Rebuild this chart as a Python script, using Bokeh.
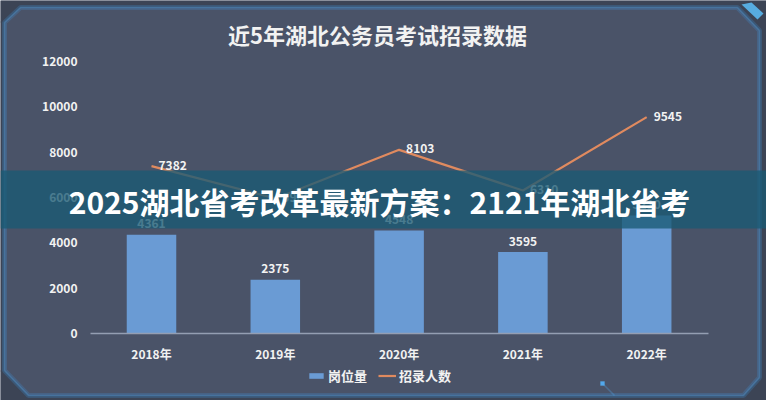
from bokeh.plotting import figure
from bokeh.models import (ColumnDataSource, LabelSet, Label, PolyAnnotation, Legend, LegendItem,
                          FixedTicker, Range1d, LinearAxis)
from bokeh.embed import file_html
from bokeh.resources import INLINE
from bokeh.core.properties import value

# ---------------- data ----------------
title_text = "近5年湖北公务员考试招录数据"
banner_text = "2025湖北省考改革最新方案：2121年湖北省考"
years = ["2018年", "2019年", "2020年", "2021年", "2022年"]
posts = [4361, 2375, 4548, 3595, 5210]     # 岗位量
hires = [7382, 5960, 8103, 6310, 9545]     # 招录人数
y_ticks = [0, 2000, 4000, 6000, 8000, 10000, 12000]
series_names = ["岗位量", "招录人数"]

# ---------------- layout (pixels) ----------------
W, H = 766, 400
X0_PX, DX_PX = 151.0, 123.8          # pixel x of first category, spacing
Y0_PX, Y_TOP_PX = 333.0, 61.0         # pixel y of y=0 and of top tick
AX_LEFT_PX, AX_RIGHT_PX = 90.0, 708.0
y_per_px = (y_ticks[-1] - y_ticks[0]) / (Y0_PX - Y_TOP_PX)


def xd(px):
    return (px - X0_PX) / DX_PX


def yd(py):
    return (Y0_PX - py) * y_per_px


BG = "#4a5368"
OUTER = "#3c4455"
BAR = "#6a9bd4"
LINE = "#e08a5f"
TXT = "#f2f2f2"
EDGE = "#52a8ec"
FONT = "Noto Sans CJK SC"


def scr(points):
    return dict(xs=[a for a, b in points], ys=[H - b for a, b in points],
                xs_units="screen", ys_units="screen")


idx = list(range(len(years)))
src = ColumnDataSource(dict(
    x=idx, posts=posts, hires=hires,
    posts_lbl=[str(v) for v in posts],
    hires_lbl=[str(v) for v in hires],
))

p = figure(width=W, height=H, output_backend="svg", toolbar_location=None,
           x_range=Range1d(xd(0), xd(W)), y_range=Range1d(yd(H), yd(0)),
           x_axis_location=None, y_axis_location=None, min_border=0,
           background_fill_color=BG, border_fill_color=BG, outline_line_color=None)
p.grid.visible = False

bars = p.vbar(x="x", top="posts", width=0.4, source=src, fill_color=BAR, line_color=None)
line = p.line(x="x", y="hires", source=src, line_color=LINE, line_width=2.2)

xaxis = LinearAxis(fixed_location=y_ticks[0], bounds=(xd(AX_LEFT_PX), xd(AX_RIGHT_PX)),
                   ticker=FixedTicker(ticks=idx),
                   major_label_overrides={i: y for i, y in enumerate(years)})
yaxis = LinearAxis(fixed_location=xd(AX_LEFT_PX), bounds=(y_ticks[0], y_ticks[-1]),
                   ticker=FixedTicker(ticks=y_ticks))
for ax in (xaxis, yaxis):
    ax.major_tick_line_color = None
    ax.minor_tick_line_color = None
    ax.major_tick_out = 0
    ax.major_tick_in = 0
    ax.major_label_text_font = FONT
    ax.major_label_text_font_style = "bold"
    ax.major_label_text_font_size = "12px"
    ax.major_label_text_color = TXT
yaxis.axis_line_color = None
yaxis.major_label_standoff = 13
xaxis.axis_line_color = "#949eb2"
xaxis.axis_line_width = 1.6
xaxis.major_label_standoff = 11
p.add_layout(xaxis, "below")
p.add_layout(yaxis, "left")

# data labels
p.add_layout(LabelSet(x="x", y="posts", text="posts_lbl", source=src,
                      text_align="center", text_baseline="middle", y_offset=11,
                      text_font=value(FONT), text_font_style="bold",
                      text_font_size="12px", text_color=TXT))
p.add_layout(LabelSet(x="x", y="hires", text="hires_lbl", source=src,
                      text_align="left", text_baseline="middle", x_offset=7, y_offset=1,
                      text_font=value(FONT), text_font_style="bold",
                      text_font_size="12px", text_color=TXT))

# title
p.add_layout(Label(x=377, y=H - 33.5, x_units="screen", y_units="screen",
                   text=title_text, text_align="center", text_baseline="middle",
                   text_font=FONT, text_font_style="bold", text_font_size="22px",
                   text_color=TXT))

# legend
legend = Legend(items=[LegendItem(label=series_names[0], renderers=[bars]),
                       LegendItem(label=series_names[1], renderers=[line])],
                location=(307, H - 385), orientation="horizontal",
                glyph_width=18, glyph_height=7, label_standoff=3, spacing=11,
                padding=0, margin=0, label_height=16,
                border_line_color=None, background_fill_alpha=0,
                label_text_font=FONT, label_text_font_style="bold",
                label_text_font_size="13px", label_text_color=TXT)
p.add_layout(legend, "center")

# decorative frame
outer_parts = [
    [(0, 0), (W, 0), (W, 30), (759, 30), (737, 7), (20, 7), (4, 22), (0, 22)],
    [(0, H), (W, H), (W, 377), (759, 377), (743, 395), (28, 395), (4, 370), (0, 370)],
    [(0, 21), (4, 21), (4, 371), (0, 371)],
    [(759, 29), (W, 29), (W, 378), (759, 378)],
]
for part in outer_parts:
    p.add_layout(PolyAnnotation(**scr(part), fill_color=OUTER, fill_alpha=1, line_color=None))
border = [(4, 22), (20, 7), (737, 7), (759, 30), (759, 377), (743, 395), (28, 395), (4, 370)]
p.add_layout(PolyAnnotation(**scr(border), fill_alpha=0, line_color="#3f9be6",
                            line_width=5, line_alpha=0.22))
p.add_layout(PolyAnnotation(**scr(border), fill_alpha=0, line_color=EDGE, line_width=1.6))
tr = [(741, 4), (751, 2), (763, 13), (757, 19)]
p.add_layout(PolyAnnotation(**scr(tr), fill_color="#5ab8f0", fill_alpha=0.9, line_color=None))
p.add_layout(PolyAnnotation(**scr([(602, 383), (614, 395)]), fill_alpha=0,
                            line_color=EDGE, line_width=1.6))
p.add_layout(PolyAnnotation(**scr([(600, 381), (604, 381), (604, 385), (600, 385)]),
                            fill_color=EDGE, fill_alpha=1, line_color=EDGE, line_width=1))

# overlay banner
band = [(0, 170), (W, 170), (W, 228), (0, 228)]
p.add_layout(PolyAnnotation(**scr(band), fill_color="#195a73", fill_alpha=0.78, line_color=None))
p.add_layout(Label(x=379, y=H - 200, x_units="screen", y_units="screen",
                   text=banner_text, text_align="center", text_baseline="middle",
                   text_font=FONT, text_font_style="bold", text_font_size="30px",
                   text_color="#ffffff"))

html = file_html(p, INLINE)
html = html.replace("<body>", '<body style="background-color:%s;">' % OUTER, 1)
open("out.html", "w").write(html)
